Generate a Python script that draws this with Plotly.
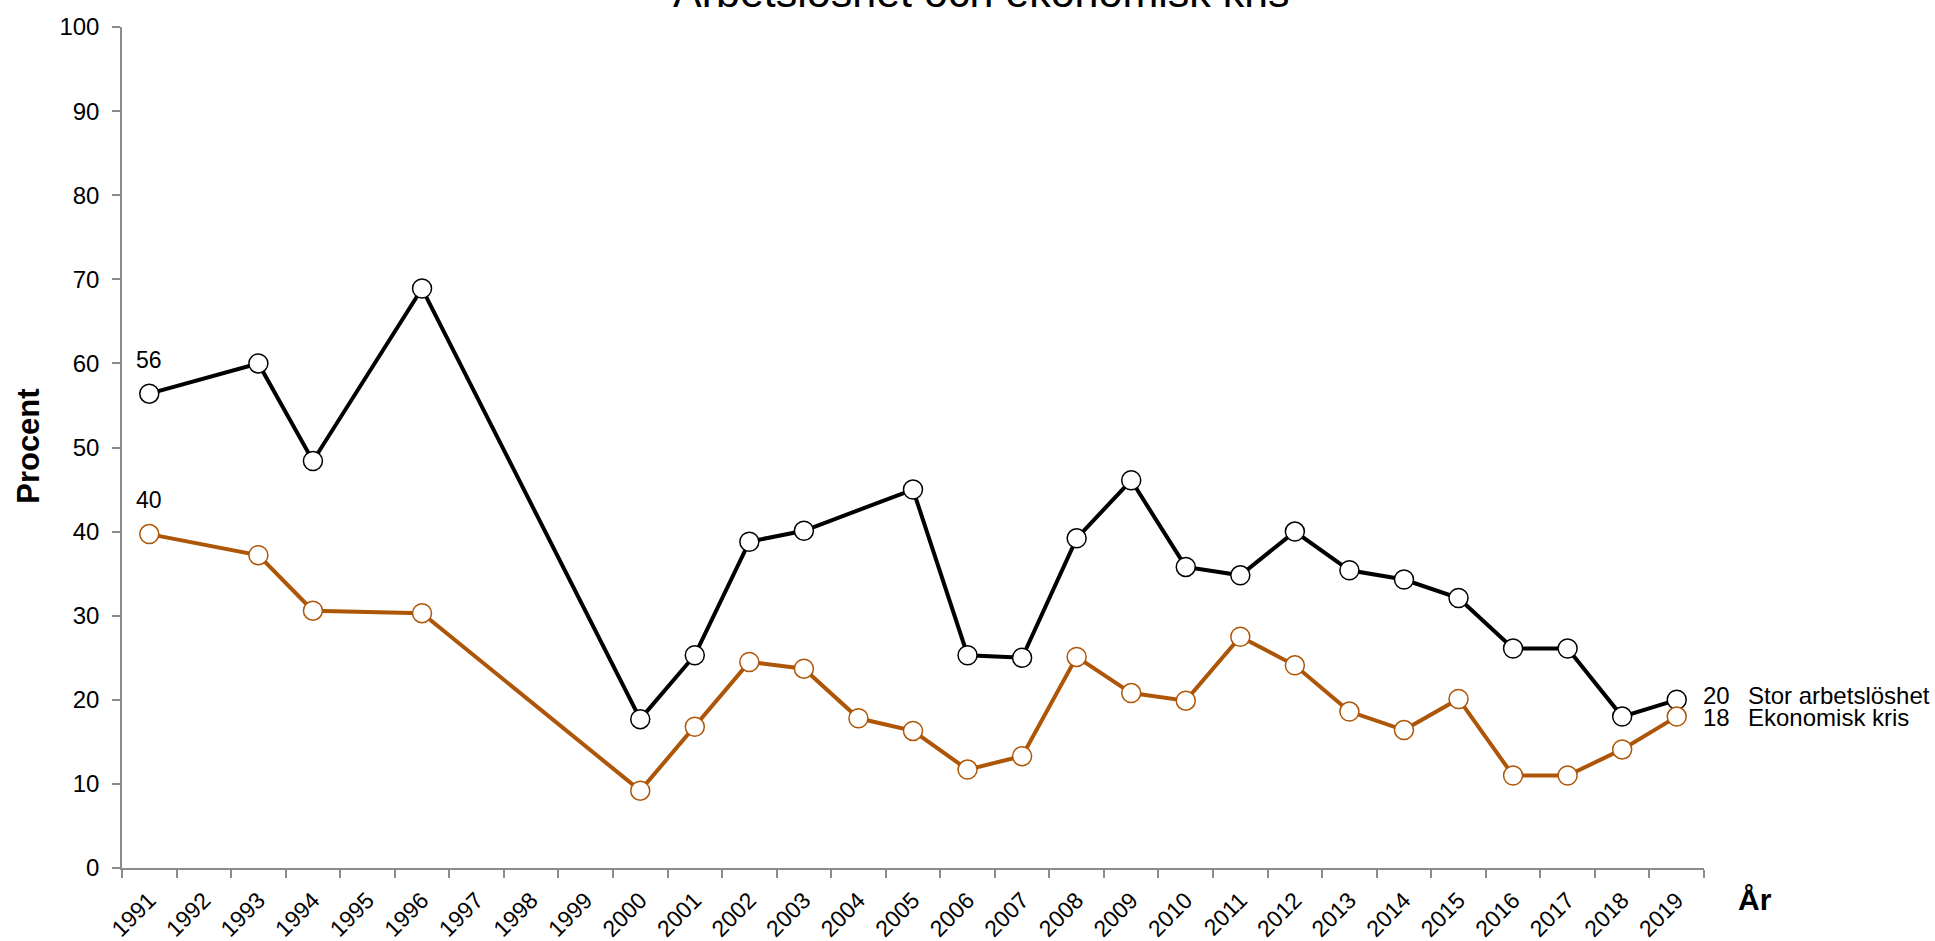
import plotly.graph_objects as go

years = [str(y) for y in range(1991, 2020)]

# None = no survey that year (lines are drawn across the gaps)
stor_arbetsloshet = [56.4, None, 60.0, 48.4, None, 68.9, None, None, None,
                     17.7, 25.3, 38.8, 40.1, None, 45.0, 25.3, 25.0, 39.2,
                     46.1, 35.8, 34.8, 40.0, 35.4, 34.3, 32.1, 26.1, 26.1,
                     18.0, 20.0]
ekonomisk_kris = [39.7, None, 37.2, 30.6, None, 30.3, None, None, None,
                  9.2, 16.8, 24.5, 23.7, 17.8, 16.3, 11.7, 13.3, 25.1,
                  20.8, 19.9, 27.5, 24.1, 18.6, 16.4, 20.1, 11.0, 11.0,
                  14.1, 18.0]

series_names = ["Stor arbetslöshet", "Ekonomisk kris"]
series_colors = ["#000000", "#AE5607"]
series_values = [stor_arbetsloshet, ekonomisk_kris]

font = "Arial, Liberation Sans, sans-serif"

fig = go.Figure()
for name, vals, col in zip(series_names, series_values, series_colors):
    fig.add_trace(go.Scatter(
        x=years, y=vals, name=name, mode="lines+markers", connectgaps=True,
        line=dict(color=col, width=4),
        marker=dict(size=19, color="white", line=dict(color=col, width=1.5)),
        cliponaxis=False,
    ))

# first-year value labels (x given as category index)
for vals in series_values:
    fig.add_annotation(x=0, y=vals[0], text=str(round(vals[0])),
                       showarrow=False, yshift=34, font=dict(size=23, color="black"))

# end labels next to the last point
for name, vals, dy in zip(series_names, series_values, [4, -1]):
    fig.add_annotation(x=1, xref="paper", y=vals[-1], text=str(round(vals[-1])),
                       xanchor="left", yanchor="middle", xshift=-3, yshift=dy,
                       showarrow=False, font=dict(size=24, color="black"))
    fig.add_annotation(x=1, xref="paper", y=vals[-1], text=name,
                       xanchor="left", yanchor="middle", xshift=42, yshift=dy,
                       showarrow=False, font=dict(size=24, color="black"))

fig.add_annotation(x=0.5436, y=1.0416, xref="paper", yref="paper",
                   text="Arbetslöshet och ekonomisk kris", showarrow=False,
                   xanchor="center", yanchor="middle", font=dict(size=43, color="black"))
fig.add_annotation(x=1.032, y=-0.037, xref="paper", yref="paper", text="<b>År</b>",
                   xanchor="center", yanchor="middle", showarrow=False,
                   font=dict(size=30, color="black"))
fig.add_annotation(x=-0.0588, y=0.502, xref="paper", yref="paper", text="<b>Procent</b>",
                   xanchor="center", yanchor="middle", textangle=-90, showarrow=False,
                   font=dict(size=31, color="black"))

fig.update_layout(
    width=1935, height=941,
    font=dict(family=font, color="black"),
    plot_bgcolor="white", paper_bgcolor="white",
    showlegend=False,
    margin=dict(l=122, r=231, t=27, b=73),
)
fig.update_xaxes(
    type="category", categoryorder="array", categoryarray=years,
    range=[-0.5, len(years) - 0.5], tickson="boundaries",
    showline=True, linecolor="#8c8c8c", linewidth=1.5,
    ticks="outside", ticklen=8, tickcolor="#8c8c8c", tickwidth=1.5,
    tickangle=-45, tickfont=dict(size=23), ticklabelstandoff=8,
    showgrid=False, zeroline=False, automargin=False,
)
fig.update_yaxes(
    range=[0, 100], dtick=10, showline=True, linecolor="#8c8c8c", linewidth=1.5,
    ticks="outside", ticklen=8, tickcolor="#8c8c8c", tickwidth=1.5,
    tickfont=dict(size=24), ticklabelstandoff=8,
    showgrid=False, zeroline=False, automargin=False,
)

# drop the default 8px body margin so the figure fills the window exactly
fig.write_html("out.html", config={"displayModeBar": False},
               post_script="document.body.style.margin='0';")
